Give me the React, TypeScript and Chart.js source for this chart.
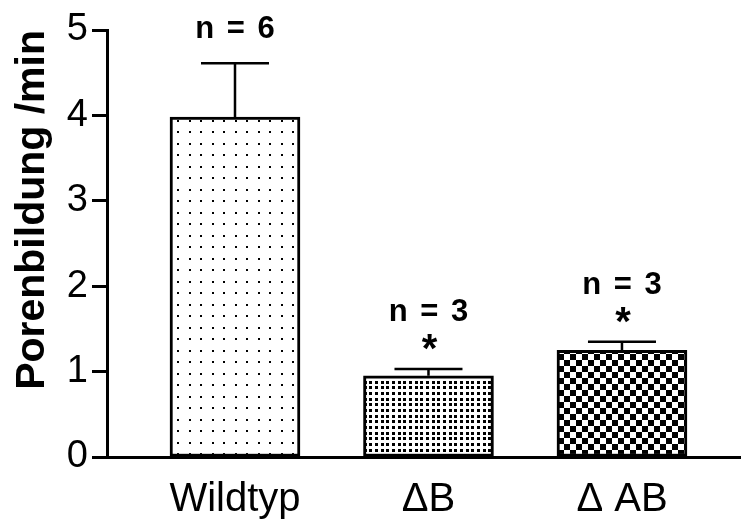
import React, { useEffect, useRef } from "react";
import { Chart, registerables } from "chart.js";

Chart.register(...registerables);

// ---- data ----
const categories = ["Wildtyp", "\u0394B", "\u0394 AB"];
const positions = [1, 2, 3];
const means = [3.98, 0.95, 1.25];
const sem = [0.63, 0.08, 0.1];
const nLabels = ["n = 6", "n = 3", "n = 3"];
const significance = ["", "*", "*"];
const yTicks = [0, 1, 2, 3, 4, 5];

const FONT = "'Liberation Sans', Arial, Helvetica, sans-serif";

function makePattern(kind: number): CanvasPattern | string {
  const c = document.createElement("canvas");
  const g = c.getContext("2d");
  if (!g) return "#fff";
  if (kind === 0) {
    c.width = 23;
    c.height = 23;
    g.fillStyle = "#fff";
    g.fillRect(0, 0, 23, 23);
    g.fillStyle = "#000";
    [5, 16].forEach((a) => [5, 16].forEach((b) => g.fillRect(a, b, 2, 2)));
  } else if (kind === 1) {
    c.width = 17;
    c.height = 17;
    g.fillStyle = "#fff";
    g.fillRect(0, 0, 17, 17);
    g.fillStyle = "#000";
    [1, 7, 12].forEach((a) => [1, 7, 12].forEach((b) => g.fillRect(a, b, 3, 3)));
  } else {
    c.width = 12;
    c.height = 12;
    g.fillStyle = "#fff";
    g.fillRect(0, 0, 12, 12);
    g.fillStyle = "#000";
    g.fillRect(0, 0, 6, 6);
    g.fillRect(6, 6, 6, 6);
  }
  return g.createPattern(c, "repeat") || "#fff";
}

const annotPlugin = {
  id: "errAnnot",
  afterDatasetsDraw(chart: any) {
    const { ctx, scales } = chart;
    const x = scales.x;
    const y = scales.y;
    ctx.save();
    ctx.strokeStyle = "#000";
    ctx.fillStyle = "#000";
    ctx.lineWidth = 2.5;
    ctx.textAlign = "center";
    ctx.textBaseline = "alphabetic";
    positions.forEach((p, i) => {
      const cx = x.getPixelForValue(p);
      const yTop = y.getPixelForValue(means[i]);
      const yErr = y.getPixelForValue(means[i] + sem[i]);
      ctx.beginPath();
      ctx.moveTo(cx, yTop);
      ctx.lineTo(cx, yErr);
      ctx.moveTo(cx - 34, yErr);
      ctx.lineTo(cx + 34, yErr);
      ctx.stroke();
      (ctx as any).letterSpacing = "0px";
      if (significance[i]) {
        ctx.font = `bold 40px ${FONT}`;
        ctx.fillText(significance[i], cx + 1, yErr - 7);
      }
      ctx.font = `bold 31px ${FONT}`;
      (ctx as any).letterSpacing = "2px";
      ctx.fillText(nLabels[i], cx + 1, yErr - (significance[i] ? 48 : 25));
    });
    ctx.restore();
  },
};

export default function App() {
  const ref = useRef<HTMLCanvasElement | null>(null);

  useEffect(() => {
    document.body.style.margin = "0";
    const canvas = ref.current;
    if (!canvas) return;
    const patterns = [0, 1, 2].map((k) => makePattern(k));
    const chart = new Chart(canvas, {
      type: "bar",
      data: {
        datasets: [
          {
            data: positions.map((p, i) => ({ x: p, y: means[i] })),
            backgroundColor: patterns as any,
            borderColor: "#000",
            borderWidth: 3,
            borderSkipped: false,
            barThickness: 130,
          } as any,
        ],
      },
      options: {
        animation: false,
        responsive: false,
        devicePixelRatio: 1,
        layout: { padding: { top: 30, right: 3, left: 0, bottom: 0 } },
        plugins: {
          legend: { display: false },
          tooltip: { enabled: false },
        },
        scales: {
          x: {
            type: "linear",
            offset: false,
            min: 0.3385,
            max: 3.61,
            afterBuildTicks: (scale: any) => {
              scale.ticks = positions.map((v) => ({ value: v }));
            },
            afterFit: (scale: any) => {
              scale.height = 65;
            },
            grid: { display: false, drawTicks: false, offset: false },
            border: { display: true, color: "#000", width: 3 },
            ticks: {
              autoSkip: false,
              maxRotation: 0,
              padding: 19,
              color: "#000",
              font: { family: FONT, size: 40 },
              callback: (v: any) => {
                const idx = positions.indexOf(Number(v));
                return idx >= 0 ? categories[idx] : "";
              },
            },
          },
          y: {
            type: "linear",
            min: 0,
            max: 5,
            afterBuildTicks: (scale: any) => {
              scale.ticks = yTicks.map((v) => ({ value: v }));
            },
            afterFit: (scale: any) => {
              scale.width = 107;
            },
            grid: {
              drawOnChartArea: false,
              drawTicks: true,
              tickLength: 15,
              tickWidth: 3,
              tickColor: "#000",
            },
            border: { display: true, color: "#000", width: 3 },
            ticks: {
              padding: 4,
              color: "#000",
              font: { family: FONT, size: 38 },
              callback: (v: any) => String(v),
            },
            title: {
              display: true,
              text: "Porenbildung /min",
              align: "end",
              color: "#000",
              font: { family: FONT, size: 41, weight: "bold" },
              padding: { top: 8, bottom: 0 },
            },
          },
        },
      } as any,
      plugins: [annotPlugin],
    });
    return () => chart.destroy();
  }, []);

  return (
    <div style={{ width: 743, height: 522, background: "#fff" }}>
      <canvas ref={ref} width={743} height={522} style={{ display: "block" }} />
    </div>
  );
}
